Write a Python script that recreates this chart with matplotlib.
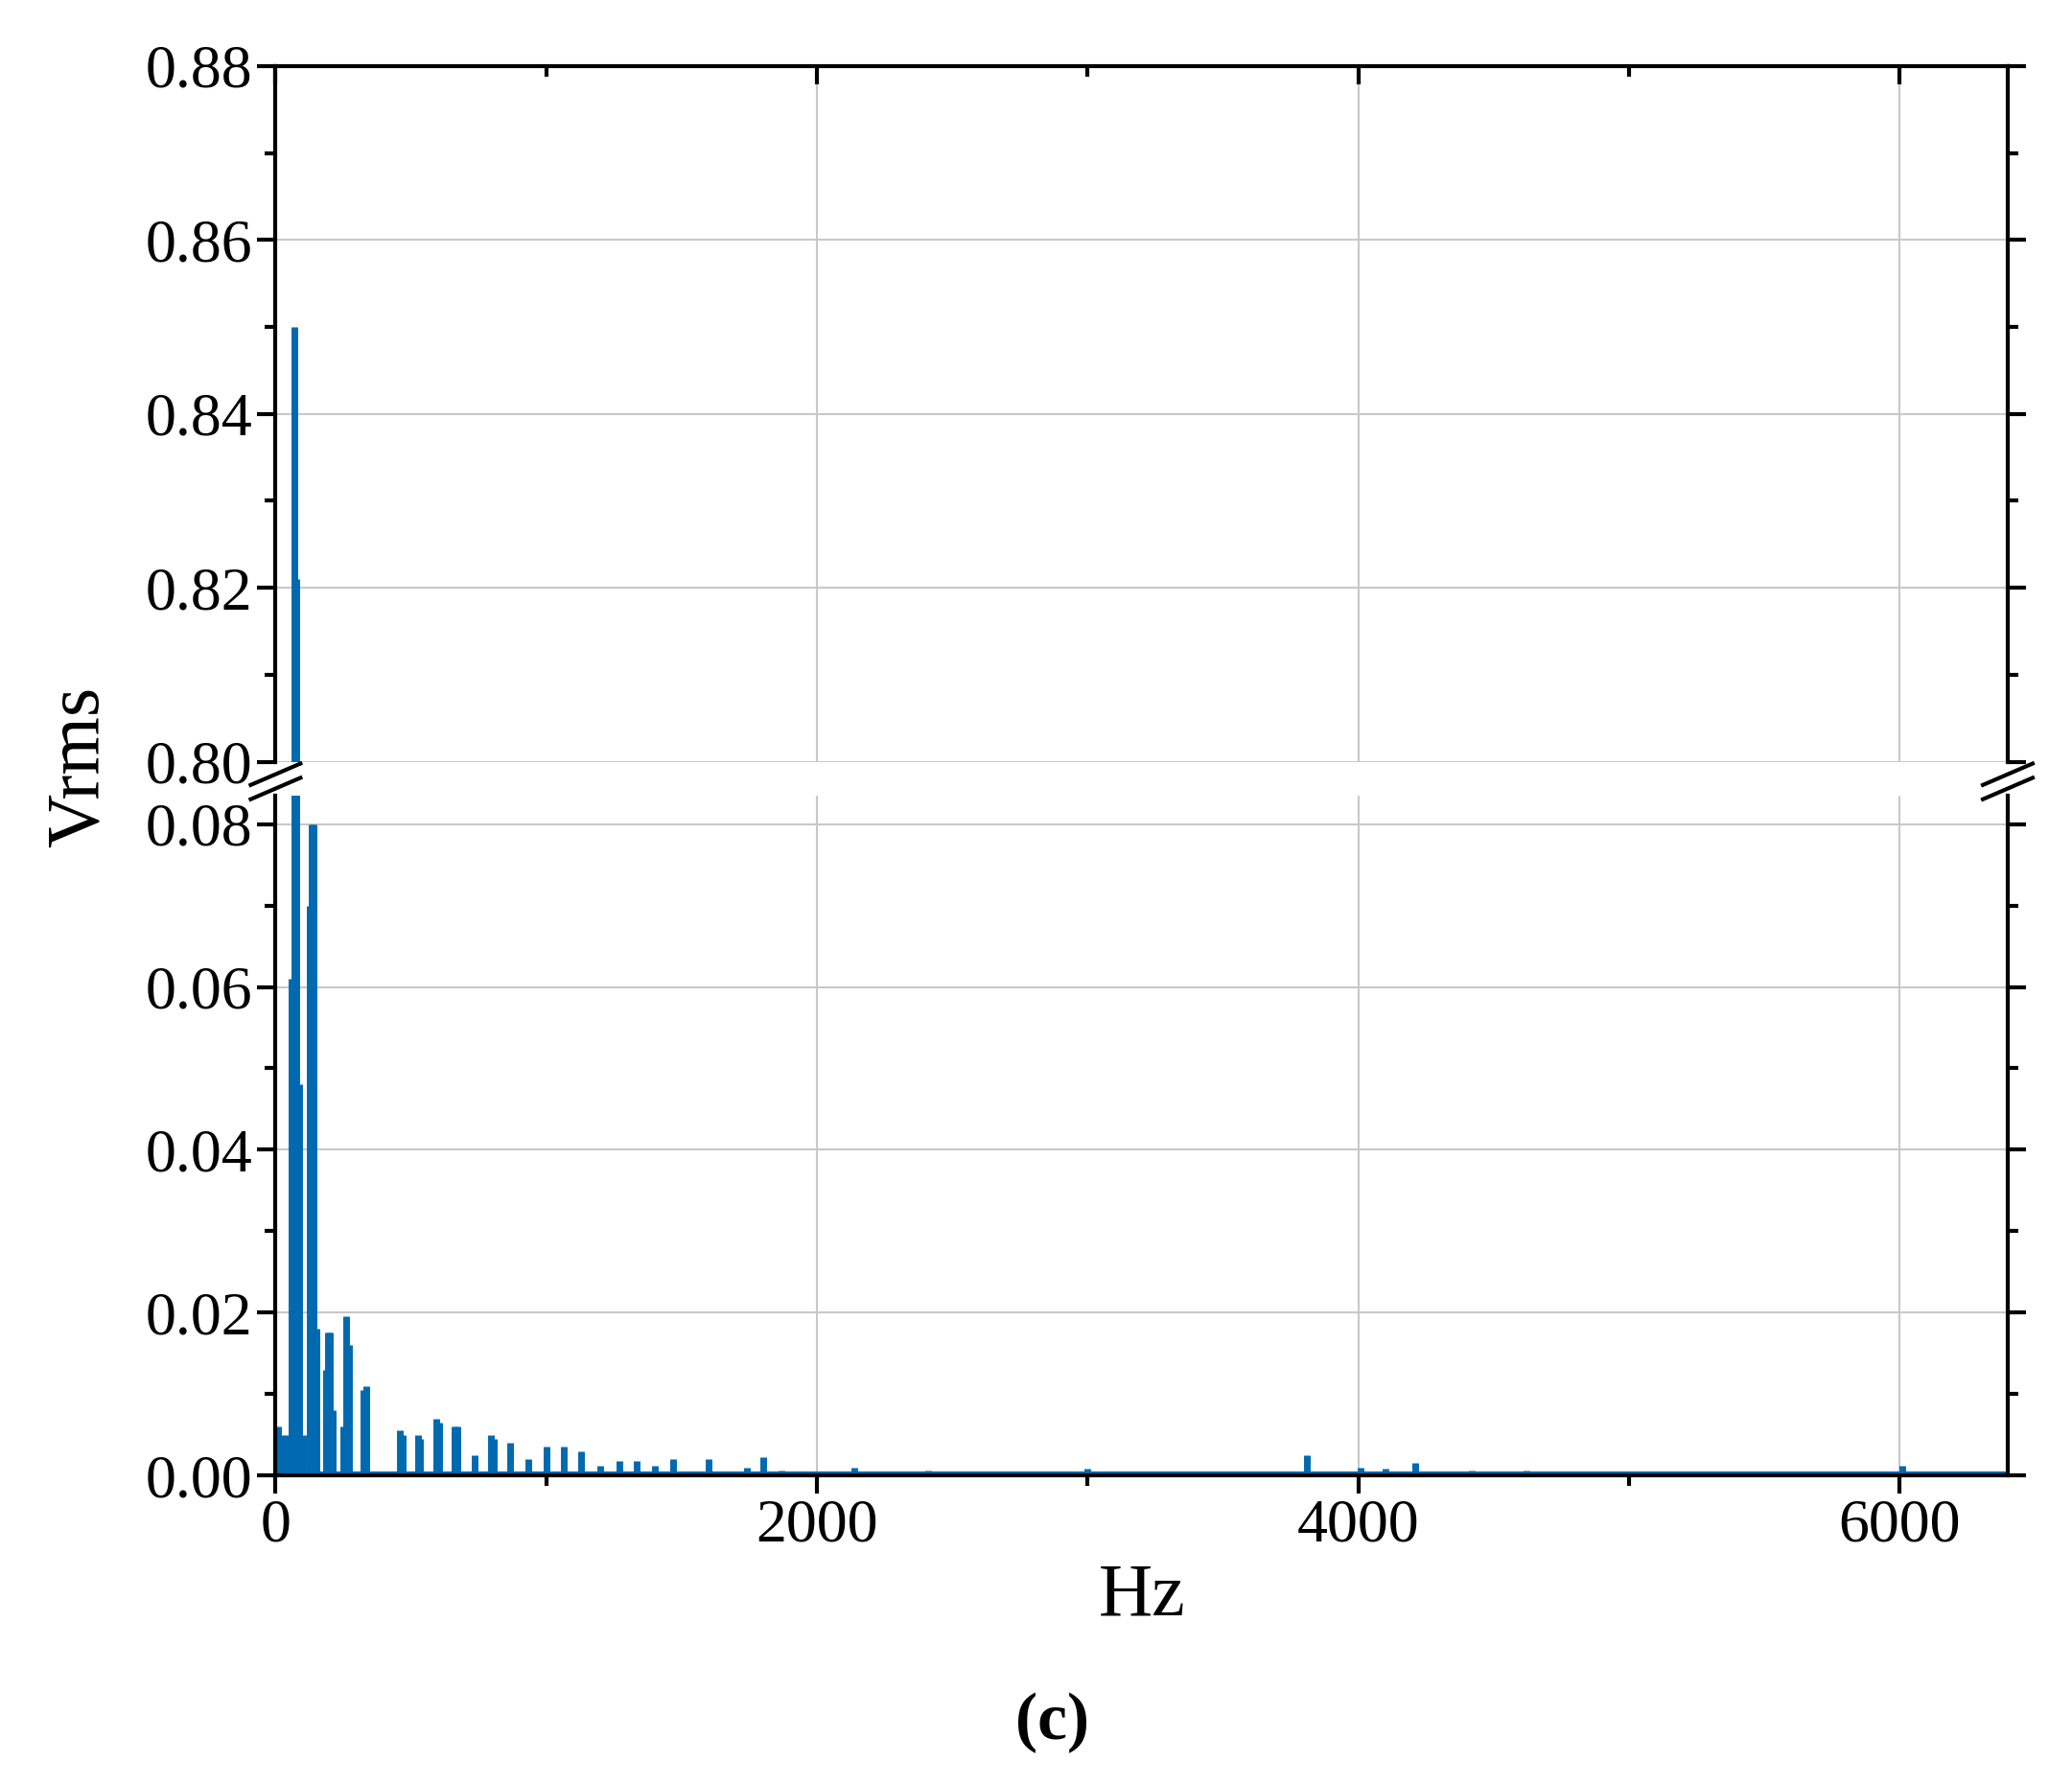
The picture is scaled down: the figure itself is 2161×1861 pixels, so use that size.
import matplotlib.pyplot as plt
import numpy as np

# spectrum peaks (Hz, Vrms)
freqs = [10, 25, 45, 60, 70, 78, 88, 100, 125, 132, 140, 150, 185, 195, 202, 210, 250, 262, 270, 325, 335,
         460, 470, 525, 535, 595, 605, 660, 670, 735, 795, 805, 865, 935, 1000, 1065, 1130, 1200, 1270, 1335,
         1400, 1470, 1600, 1740, 1800, 1870, 2140, 2410, 2600, 2800, 3000, 3200, 3400, 3600, 3810, 4010, 4100,
         4210, 4420, 4620, 4800, 5100, 5400, 5800, 6010, 6200]
vrms = [0.006, 0.005, 0.005, 0.061, 0.850, 0.821, 0.048, 0.005, 0.070, 0.080, 0.080, 0.018, 0.013, 0.0175, 0.0175,
        0.008, 0.006, 0.0195, 0.016, 0.0105, 0.011, 0.0055, 0.005, 0.005, 0.0045, 0.007, 0.0065, 0.006, 0.006,
        0.0025, 0.005, 0.0045, 0.004, 0.002, 0.0035, 0.0035, 0.003, 0.0012, 0.0018, 0.0018, 0.0012, 0.002,
        0.002, 0.001, 0.0022, 0.0006, 0.001, 0.0006, 0.0005, 0.0005, 0.0008, 0.0005, 0.0005, 0.0005, 0.0025,
        0.001, 0.0008, 0.0015, 0.0006, 0.0006, 0.0005, 0.0005, 0.0004, 0.0004, 0.0012, 0.0004]

blue = '#0069b0'
plt.rcParams['font.family'] = ['Liberation Serif', 'DejaVu Serif']

fig = plt.figure(figsize=(21.61, 18.61), dpi=100)
ax_top = fig.add_axes([0.133, 0.573, 0.836, 0.390])
ax_bot = fig.add_axes([0.133, 0.173, 0.836, 0.381])

for ax in (ax_top, ax_bot):
    ax.vlines(freqs, 0, vrms, color=blue, lw=5)
    ax.axhline(0.0002, color=blue, lw=3)
    ax.set_xlim(0, 6400)
    ax.grid(True, color='#c8c8c8', lw=1.5)
    ax.set_axisbelow(True)
    ax.tick_params(labelsize=46, width=3, length=14, right=True, top=False, direction='out')
    ax.tick_params(axis='y', which='both', right=True)
    for s in ax.spines.values():
        s.set_linewidth(3)
    ax.set_xticks([0, 2000, 4000, 6000])
    ax.set_xticks([1000, 3000, 5000], minor=True)
    ax.tick_params(which='minor', width=3, length=8)

ax_top.set_ylim(0.80, 0.88)
ax_top.set_yticks(np.arange(0.80, 0.881, 0.02))
ax_top.set_yticks(np.arange(0.81, 0.88, 0.02), minor=True)
ax_top.set_yticklabels(['0.80', '0.82', '0.84', '0.86', '0.88'])
ax_top.spines['bottom'].set_visible(False)
ax_top.tick_params(axis='x', which='both', bottom=False, labelbottom=False, top=True, direction='in', length=14)
ax_top.tick_params(axis='x', which='minor', top=True, length=8)

ax_bot.set_ylim(0, 0.0835)
ax_bot.set_yticks(np.arange(0, 0.081, 0.02))
ax_bot.set_yticks(np.arange(0.01, 0.08, 0.02), minor=True)
ax_bot.set_yticklabels(['0.00', '0.02', '0.04', '0.06', '0.08'])
ax_bot.spines['top'].set_visible(False)
ax_bot.set_xlabel('Hz', fontsize=56, labelpad=6)

# break marks
for xf in (0.133, 0.969):
    for yf in (0.566, 0.558):
        fig.add_artist(plt.Line2D([xf - 0.012, xf + 0.012], [yf - 0.006, yf + 0.006], color='k', lw=3))

fig.text(0.022, 0.57, 'Vrms', rotation=90, fontsize=56, va='center')
fig.text(0.508, 0.025, '(c)', fontsize=50, fontweight='bold', ha='center')

fig.savefig('out.png')
